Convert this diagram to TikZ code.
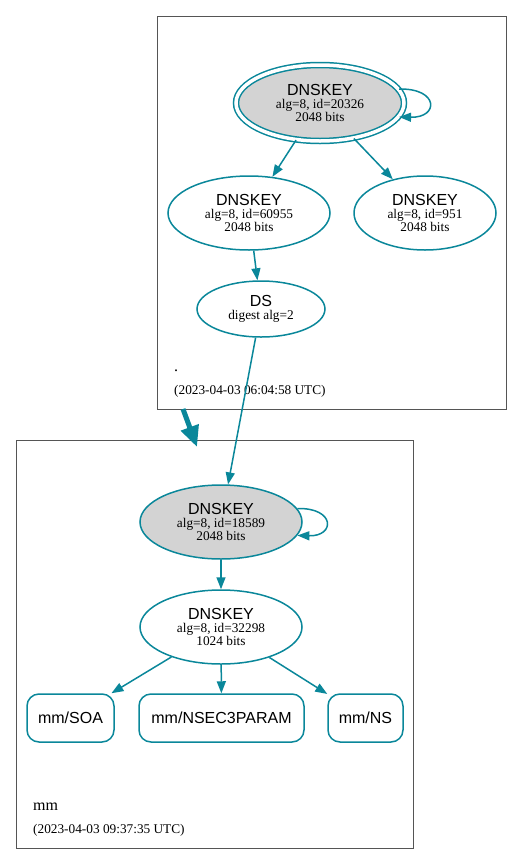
\documentclass[tikz,border=0pt]{standalone}
\usepackage{fontspec}
\setmainfont{Liberation Serif}
\setsansfont{Liberation Sans}
\usetikzlibrary{arrows.meta,shapes.geometric}
\definecolor{dvteal}{HTML}{0A879A}
\definecolor{dvgray}{HTML}{D3D3D3}
\definecolor{clus}{HTML}{555555}
\tikzset{
  key/.style={ellipse, draw=dvteal, line width=1.5pt, inner sep=0pt, align=center,
    font=\fontsize{13.3}{13}\selectfont},
  rrset/.style={rectangle, rounded corners=12pt, draw=dvteal, line width=1.5pt, inner sep=0pt,
    minimum height=48pt, font=\fontsize{16}{18}\selectfont\sffamily},
  edge/.style={draw=dvteal, line width=1.5pt, -{Triangle[length=12pt,width=9pt]}},
  clusterbox/.style={draw=clus, line width=0.9pt},
  lbl/.style={anchor=base west, inner sep=0pt},
}
\newcommand{\hd}[1]{{\fontsize{16}{13}\selectfont\sffamily #1}}
\begin{document}
\begin{tikzpicture}[x=1pt,y=-1pt]
\useasboundingbox (0,0) rectangle (523,865);
% clusters
\draw[clusterbox] (157,16) rectangle (506,409);
\draw[clusterbox] (16,440) rectangle (413,848);
% top zone
\node[key, fill=dvgray, double=white, double distance=3.5pt, minimum width=168pt, minimum height=76pt] (k1) at (320,103) {\hd{DNSKEY}\\alg=8, id=20326\\2048 bits};
\node[key, minimum width=162pt, minimum height=74pt] (k2) at (249,213) {\hd{DNSKEY}\\alg=8, id=60955\\2048 bits};
\node[key, minimum width=142pt, minimum height=74pt] (k4) at (425,213) {\hd{DNSKEY}\\alg=8, id=951\\2048 bits};
\node[key, minimum width=128pt, minimum height=56pt] (ds) at (261,309) {\hd{DS}\\digest alg=2};
\node[lbl, font=\fontsize{16}{18}\selectfont] (rootname) at (174,371) {.};
\node[lbl, font=\fontsize{13.3}{15}\selectfont] (roottime) at (174,394) {(2023-04-03 06:04:58 UTC)};
% bottom zone
\node[key, fill=dvgray, minimum width=162pt, minimum height=74pt] (k3) at (221,522) {\hd{DNSKEY}\\alg=8, id=18589\\2048 bits};
\node[key, minimum width=162pt, minimum height=74pt] (k5) at (221,627) {\hd{DNSKEY}\\alg=8, id=32298\\1024 bits};
\node[rrset, minimum width=87pt] (soa) at (70.5,718) {mm/SOA};
\node[rrset, minimum width=165pt] (n3p) at (221.5,718) {mm/NSEC3PARAM};
\node[rrset, minimum width=75pt] (ns) at (365.5,718) {mm/NS};
\node[lbl, font=\fontsize{16}{18}\selectfont] (mmname) at (33,810) {mm};
\node[lbl, font=\fontsize{13.3}{15}\selectfont] (mmtime) at (33,833) {(2023-04-03 09:37:35 UTC)};
% edges
\draw[edge] (k1.10) .. controls +(40,-1) and +(40,1) .. (k1.-10);
\draw[edge] (k1) -- (k2);
\draw[edge] (k1) -- (k4);
\draw[edge] (k2) -- (ds);
\draw[edge] (ds) -- (k3);
\draw[edge] (k3.10) .. controls +(38,-1) and +(38,1) .. (k3.-10);
\draw[edge] (k3) -- (k5);
\draw[edge] (k5) -- (soa);
\draw[edge] (k5) -- (n3p);
\draw[edge] (k5) -- (ns);
% delegation arrow between zones
\coordinate (zt) at (183,409);
\coordinate (zb) at (197,447);
\draw[draw=dvteal, line width=5pt, -{Triangle[length=21pt,width=18pt]}] (zt) -- (zb);
\end{tikzpicture}
\end{document}
